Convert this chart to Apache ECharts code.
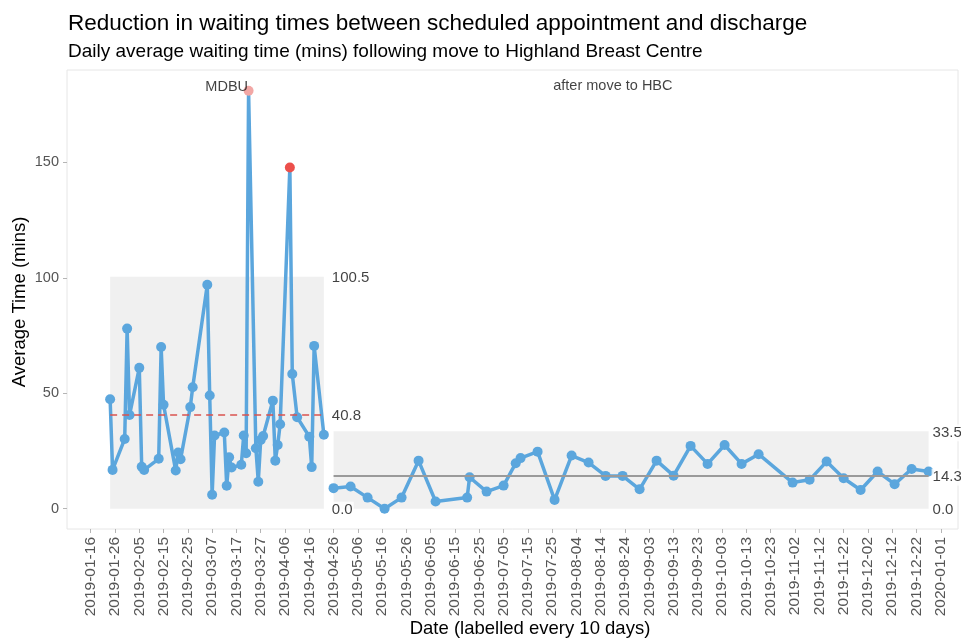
<!DOCTYPE html>
<html>
<head>
<meta charset="utf-8">
<script src="https://cdn.jsdelivr.net/npm/echarts@6/dist/echarts.min.js"></script>
<style>
html,body{margin:0;padding:0;background:#fff;}
#chart{width:961px;height:639px;}
</style>
</head>
<body>
<div id="chart"></div>
<script>
// ---- data ----
var phase1Dates = ['2019-01-24','2019-01-25','2019-01-30','2019-01-31','2019-02-01','2019-02-05','2019-02-06','2019-02-07','2019-02-13','2019-02-14','2019-02-15','2019-02-20','2019-02-21','2019-02-22','2019-02-26','2019-02-27','2019-03-05','2019-03-06','2019-03-07','2019-03-08','2019-03-12','2019-03-13','2019-03-14','2019-03-15','2019-03-19','2019-03-20','2019-03-21','2019-03-22','2019-03-25','2019-03-26','2019-03-27','2019-03-28','2019-04-01','2019-04-02','2019-04-03','2019-04-04','2019-04-08','2019-04-09','2019-04-11','2019-04-16','2019-04-17','2019-04-18','2019-04-22'];
var phase1Values = [47.4,16.8,30.2,78,40.6,61,18.2,16.8,21.6,70,45,16.5,24.3,21.4,44,52.6,97,49,6,31.7,33,9.9,22.3,17.8,19,31.7,24,181,26.2,11.7,29.8,31.5,46.8,20.8,27.6,36.6,147.8,58.3,39.6,31.2,18,70.5,32];
var phase2Dates = ['2019-04-26','2019-05-03','2019-05-10','2019-05-17','2019-05-24','2019-05-31','2019-06-07','2019-06-20','2019-06-21','2019-06-28','2019-07-05','2019-07-10','2019-07-12','2019-07-19','2019-07-26','2019-08-02','2019-08-09','2019-08-16','2019-08-23','2019-08-30','2019-09-06','2019-09-13','2019-09-20','2019-09-27','2019-10-04','2019-10-11','2019-10-18','2019-11-01','2019-11-08','2019-11-15','2019-11-22','2019-11-29','2019-12-06','2019-12-13','2019-12-20','2019-12-27'];
var phase2Values = [8.9,9.6,4.8,0,4.8,20.8,3.1,4.8,13.6,7.4,10,19.7,21.9,24.7,3.8,23,20,14.2,14.2,8.4,20.8,14.3,27.2,19.4,27.6,19.4,23.6,11.3,12.5,20.4,13.2,8.1,16.1,10.6,17.2,16.1];
var phaseNames = ['MDBU','after move to HBC'];
var phaseCentre = [40.8, 14.3];
var phaseUpper = [100.5, 33.5];
var phaseLower = [0.0, 0.0];
var phaseLabelDates = ['2019-03-13','2019-08-19'];
var phaseLabelY = [182.5, 183];
var highlightDates = ['2019-03-22','2019-04-08'];
var highlightColors = ['#f2a7a5','#ec4f4b'];
var xTickLabels = ['2019-01-16','2019-01-26','2019-02-05','2019-02-15','2019-02-25','2019-03-07','2019-03-17','2019-03-27','2019-04-06','2019-04-16','2019-04-26','2019-05-06','2019-05-16','2019-05-26','2019-06-05','2019-06-15','2019-06-25','2019-07-05','2019-07-15','2019-07-25','2019-08-04','2019-08-14','2019-08-24','2019-09-03','2019-09-13','2019-09-23','2019-10-03','2019-10-13','2019-10-23','2019-11-02','2019-11-12','2019-11-22','2019-12-02','2019-12-12','2019-12-22','2020-01-01'];
var yTickValues = [0, 50, 100, 150];

// ---- helpers ----
var ORIGIN = Date.UTC(2019, 0, 16);
function dayOf(s) {
  var p = s.split('-');
  return Math.round((Date.UTC(+p[0], +p[1] - 1, +p[2]) - ORIGIN) / 86400000);
}
var labelByDay = {};
xTickLabels.forEach(function (s) { labelByDay[dayOf(s)] = s; });
var xTickDays = xTickLabels.map(dayOf);

var BLUE = '#5ba6dd';
var FONT = 'Liberation Sans, Arial, sans-serif';

function mkPoints(dates, vals) {
  return dates.map(function (d, i) {
    var item = { value: [dayOf(d), vals[i]] };
    var h = highlightDates.indexOf(d);
    if (h >= 0) item.itemStyle = { color: highlightColors[h] };
    return item;
  });
}
var phases = [
  { dates: phase1Dates, vals: phase1Values, labelGap: 7 },
  { dates: phase2Dates, vals: phase2Values, labelGap: 3 }
];

var series = [];
phases.forEach(function (ph, i) {
  var d0 = dayOf(ph.dates[0]);
  var d1 = dayOf(ph.dates[ph.dates.length - 1]);
  series.push({
    type: 'line', data: [], z: 1, silent: true,
    markArea: {
      silent: true,
      itemStyle: { color: '#f0f0f0' },
      data: [[{ coord: [d0, phaseLower[i]] }, { coord: [d1, phaseUpper[i]] }]]
    },
    markLine: {
      silent: true, symbol: 'none', label: { show: false },
      lineStyle: i === 0 ? { color: '#d9534f', type: [7, 5], width: 1.5 } : { color: '#9a9a9a', type: 'solid', width: 2 },
      data: [[{ coord: [d0, phaseCentre[i]] }, { coord: [d1, phaseCentre[i]] }]]
    }
  });
  series.push({
    type: 'scatter', z: 4, symbolSize: 0, silent: true,
    data: [[d1, phaseUpper[i]], [d1, phaseCentre[i]], [d1, phaseLower[i]]],
    label: {
      show: true, position: 'right', distance: ph.labelGap, offset: [0, 1.5],
      formatter: function (p) { return p.value[1].toFixed(1); },
      color: '#111', fontSize: 15, fontFamily: FONT,
      backgroundColor: '#fff', padding: [1, 1]
    }
  });
  series.push({
    type: 'line', z: 3, silent: true,
    data: mkPoints(ph.dates, ph.vals),
    symbol: 'circle', symbolSize: 10, showSymbol: true,
    lineStyle: { color: BLUE, width: 3.5 },
    itemStyle: { color: BLUE }
  });
});
series.push({
  type: 'scatter', z: 5, symbolSize: 0, silent: true,
  data: phaseNames.map(function (n, i) { return { name: n, value: [dayOf(phaseLabelDates[i]), phaseLabelY[i]] }; }),
  label: { show: true, position: 'inside', formatter: '{b}', color: '#111', fontSize: 14.5, fontFamily: FONT }
});

var chart = echarts.init(document.getElementById('chart'));
chart.setOption({
  animation: false,
  backgroundColor: '#fff',
  grid: { left: 67, top: 70, width: 891, height: 459, show: true, borderColor: '#e6e6e6', borderWidth: 1, backgroundColor: 'transparent' },
  xAxis: {
    type: 'value', min: -9.76, max: 357.1,
    axisLine: { show: false, onZero: false },
    splitLine: { show: false },
    axisTick: { show: true, length: 4, lineStyle: { color: '#b5b5b5' }, customValues: xTickDays },
    axisLabel: {
      rotate: 90, margin: 8, color: '#555', fontSize: 15.5, fontFamily: FONT,
      customValues: xTickDays,
      formatter: function (v) { return labelByDay[Math.round(v)] || ''; }
    }
  },
  yAxis: {
    type: 'value', min: -8.8, max: 190,
    axisLine: { show: false, onZero: false },
    splitLine: { show: false },
    axisTick: { show: true, length: 4, lineStyle: { color: '#b5b5b5' }, customValues: yTickValues },
    axisLabel: { margin: 8, color: '#555', fontSize: 14.5, fontFamily: FONT, customValues: yTickValues }
  },
  graphic: [
    { type: 'text', left: 68, top: 12, style: { text: 'Reduction in waiting times between scheduled appointment and discharge', fill: '#000', font: '22.5px ' + FONT } },
    { type: 'text', left: 68, top: 42, style: { text: 'Daily average waiting time (mins) following move to Highland Breast Centre', fill: '#000', font: '19px ' + FONT } },
    { type: 'text', x: 20, y: 302, rotation: Math.PI / 2, style: { text: 'Average Time (mins)', fill: '#000', font: '18.5px ' + FONT, textAlign: 'center', textVerticalAlign: 'middle' } },
    { type: 'text', x: 530, y: 629, style: { text: 'Date (labelled every 10 days)', fill: '#000', font: '18.5px ' + FONT, textAlign: 'center', textVerticalAlign: 'middle' } }
  ],
  series: series
});
</script>
</body>
</html>
